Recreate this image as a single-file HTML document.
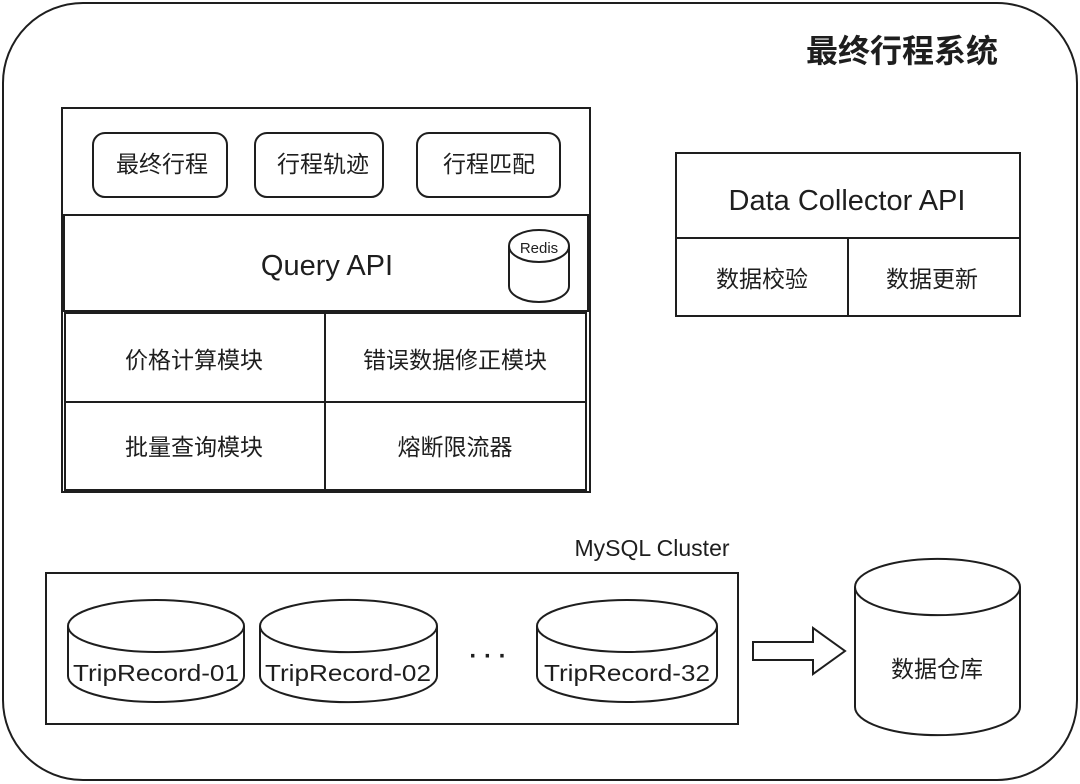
<!DOCTYPE html>
<html><head><meta charset="utf-8"><style>
html,body{margin:0;padding:0;background:#fff;width:1080px;height:784px;overflow:hidden}
text{font-family:"Liberation Sans","Noto Sans CJK SC",sans-serif;fill:#1e1e1e}
</style></head><body>
<svg width="1080" height="784" viewBox="0 0 1080 784" xmlns="http://www.w3.org/2000/svg">
<g fill="none" stroke="#1e1e1e" stroke-width="2">
<rect x="3" y="3" width="1074" height="777" rx="80"/>
<rect x="62" y="108" width="528" height="384"/>
<rect x="93" y="133" width="134" height="64" rx="12"/>
<rect x="255" y="133" width="128" height="64" rx="12"/>
<rect x="417" y="133" width="143" height="64" rx="12"/>
<rect x="64" y="215" width="524" height="96"/>
<rect x="65" y="313" width="521" height="177"/>
<line x1="325" y1="313" x2="325" y2="490"/>
<line x1="65" y1="402" x2="586" y2="402"/>
<path d="M509 246 A30 16 0 0 1 569 246 L569 286 A30 16 0 0 1 509 286 Z"/>
<path d="M509 246 A30 16 0 0 0 569 246"/>
<rect x="676" y="153" width="344" height="163"/>
<line x1="676" y1="238" x2="1020" y2="238"/>
<line x1="848" y1="238" x2="848" y2="316"/>
<rect x="46" y="573" width="692" height="151"/>
<path d="M68 626 A88 26 0 0 1 244 626 L244 676 A88 26 0 0 1 68 676 Z"/>
<path d="M68 626 A88 26 0 0 0 244 626"/>
<path d="M260 626 A88 26 0 0 1 437 626 L437 676 A88 26 0 0 1 260 676 Z"/>
<path d="M260 626 A88 26 0 0 0 437 626"/>
<path d="M537 626 A90 26 0 0 1 717 626 L717 676 A90 26 0 0 1 537 676 Z"/>
<path d="M537 626 A90 26 0 0 0 717 626"/>
<path d="M753 642 L813 642 L813 628 L845 651 L813 674 L813 660 L753 660 Z"/>
<path d="M855 587 A82 28 0 0 1 1020 587 L1020 707 A82 28 0 0 1 855 707 Z"/>
<path d="M855 587 A82 28 0 0 0 1020 587"/>
</g>
<text x="902" y="62" font-size="32" font-weight="bold" text-anchor="middle">最终行程系统</text>
<g font-size="23" text-anchor="middle">
<text x="162" y="172">最终行程</text>
<text x="323" y="172">行程轨迹</text>
<text x="489" y="172">行程匹配</text>
<text x="194" y="368">价格计算模块</text>
<text x="455" y="368">错误数据修正模块</text>
<text x="194" y="455">批量查询模块</text>
<text x="455" y="455">熔断限流器</text>
<text x="762" y="287">数据校验</text>
<text x="932" y="287">数据更新</text>
<text x="937" y="677">数据仓库</text>
</g>
<g font-size="23" text-anchor="middle" textLength="170">
<text x="156" y="681" textLength="166" lengthAdjust="spacingAndGlyphs">TripRecord-01</text>
<text x="348" y="681" textLength="166" lengthAdjust="spacingAndGlyphs">TripRecord-02</text>
<text x="627" y="681" textLength="166" lengthAdjust="spacingAndGlyphs">TripRecord-32</text>
<text x="652" y="556">MySQL Cluster</text>
</g>
<text x="327" y="275" font-size="29" text-anchor="middle">Query API</text>
<text x="539" y="253" font-size="15" text-anchor="middle">Redis</text>
<text x="847" y="210" font-size="29" text-anchor="middle">Data Collector API</text>
<text x="488" y="664" font-size="24" font-weight="bold" text-anchor="middle">· · ·</text>
</svg>
</body></html>
